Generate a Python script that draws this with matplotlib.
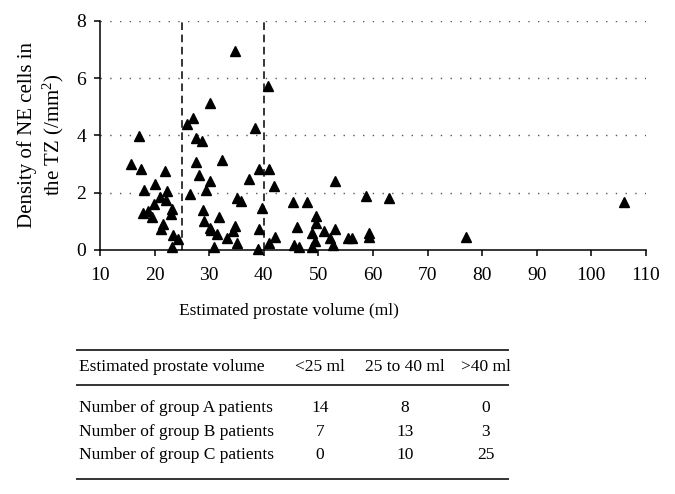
import numpy as np
import matplotlib
matplotlib.use("Agg")
import matplotlib.pyplot as plt
from matplotlib.lines import Line2D

plt.rcParams['font.family'] = ['Liberation Serif', 'DejaVu Serif']
plt.rcParams['mathtext.fontset'] = 'custom'
plt.rcParams['mathtext.rm'] = 'Liberation Serif'
plt.rcParams['mathtext.it'] = 'Liberation Serif:italic'

# scatter data: estimated prostate volume (ml) vs NE cell density (/mm2)
volume = [17.1, 15.6, 17.6, 21.9, 20.1, 18.1, 22.2, 21.0, 22.0, 19.8,
          23.1, 17.9, 18.85, 23.0, 19.5, 21.6, 21.2, 23.4, 24.3, 23.2,
          34.8, 30.1, 27.0, 26.0, 38.3, 27.5, 28.7, 27.5, 32.4, 28.1,
          30.1, 39.1, 37.3, 26.5, 29.5, 35.0, 35.9, 28.9, 39.7, 31.8,
          29.05, 30.1, 30.4, 34.7, 34.3, 39.2, 31.5, 33.3, 35.0, 30.8,
          38.9,
          40.95, 41.9, 40.85, 53.0, 45.4, 47.9, 58.7, 62.9, 106.0, 49.5,
          49.5, 46.1, 51.0, 53.1, 48.8, 59.2, 59.2, 42.05, 40.95, 52.1,
          55.5, 56.1, 49.3, 45.6, 46.5, 48.8, 52.7, 77.0]
density = [3.97, 3.01, 2.84, 2.76, 2.32, 2.09, 2.06, 1.86, 1.76, 1.62,
           1.44, 1.30, 1.37, 1.25, 1.14, 0.90, 0.74, 0.51, 0.37, 0.12,
           6.95, 5.14, 4.62, 4.38, 4.27, 3.92, 3.79, 3.07, 3.13, 2.61,
           2.40, 2.82, 2.48, 1.97, 2.08, 1.80, 1.70, 1.39, 1.48, 1.16,
           1.02, 0.78, 0.70, 0.83, 0.65, 0.72, 0.55, 0.42, 0.23, 0.09,
           0.02,
           2.82, 2.23, 5.73, 2.41, 1.66, 1.66, 1.88, 1.83, 1.68, 1.18,
           0.95, 0.81, 0.67, 0.72, 0.58, 0.58, 0.44, 0.44, 0.25, 0.41,
           0.41, 0.41, 0.32, 0.17, 0.09, 0.09, 0.16, 0.46]
cutoffs = [25, 40]

# table underneath
col_labels = ["Estimated prostate volume", "<25 ml", "25 to 40 ml", ">40 ml"]
row_labels = ["Number of group A patients", "Number of group B patients",
              "Number of group C patients"]
counts = [[14, 8, 0],
          [7, 13, 3],
          [0, 10, 25]]

W, H = 675, 494
fig = plt.figure(figsize=(W / 100, H / 100), dpi=100)
ax = fig.add_axes([100 / W, 1 - 250 / H, 546 / W, 229.3 / H])

ax.plot(volume, density, linestyle='none', marker='^', color='black',
        markersize=7, clip_on=False, zorder=3)
for c in cutoffs:
    ax.axvline(c, color='black', linestyle=(0, (5, 3)), linewidth=1.1, zorder=2)

ax.set_xlim(10, 110)
ax.set_ylim(0, 8)
ax.set_xticks(np.arange(10, 111, 10))
ax.set_yticks(np.arange(0, 9, 2))
ax.yaxis.grid(True, linestyle=(0, (1, 6)), color='#555555', linewidth=1.0)
ax.set_axisbelow(True)
for s in ['top', 'right']:
    ax.spines[s].set_visible(False)
for s in ['left', 'bottom']:
    ax.spines[s].set_linewidth(1.1)
ax.tick_params(axis='both', direction='out', length=4, width=1.1,
               labelsize=14)
ax.tick_params(axis='x', pad=8)
ax.tick_params(axis='y', pad=6)

fig.text(27 / W, 1 - 135 / H, "Density of NE cells in", rotation=90,
         ha='center', va='center', fontsize=15)
fig.text(53 / W, 1 - 135 / H, "the TZ (/mm$^2$)", rotation=90,
         ha='center', va='center', fontsize=15)
fig.text(289 / W, 1 - 311 / H, "Estimated prostate volume (ml)",
         ha='center', va='center', fontsize=12.5)

# table drawn in figure pixel coordinates
def fy(py):
    return 1 - py / H

x0, x1 = 77 / W, 508 / W
for py in [350, 385, 479]:
    fig.add_artist(Line2D([x0, x1], [fy(py), fy(py)], color='#333333',
                          linewidth=1.4, transform=fig.transFigure))

col_x = [79, 320, 405, 486]
tsize = 12.5
fig.text(col_x[0] / W, fy(367), col_labels[0], ha='left', va='center',
         fontsize=tsize)
for j in range(1, 4):
    fig.text(col_x[j] / W, fy(367), col_labels[j], ha='center', va='center',
             fontsize=tsize)
row_y = [408, 432, 455]
for i, lab in enumerate(row_labels):
    fig.text(col_x[0] / W, fy(row_y[i]), lab, ha='left', va='center',
             fontsize=tsize)
    for j in range(3):
        fig.text(col_x[j + 1] / W, fy(row_y[i]), str(counts[i][j]),
                 ha='center', va='center', fontsize=tsize)

fig.savefig("out.png", dpi=100)
